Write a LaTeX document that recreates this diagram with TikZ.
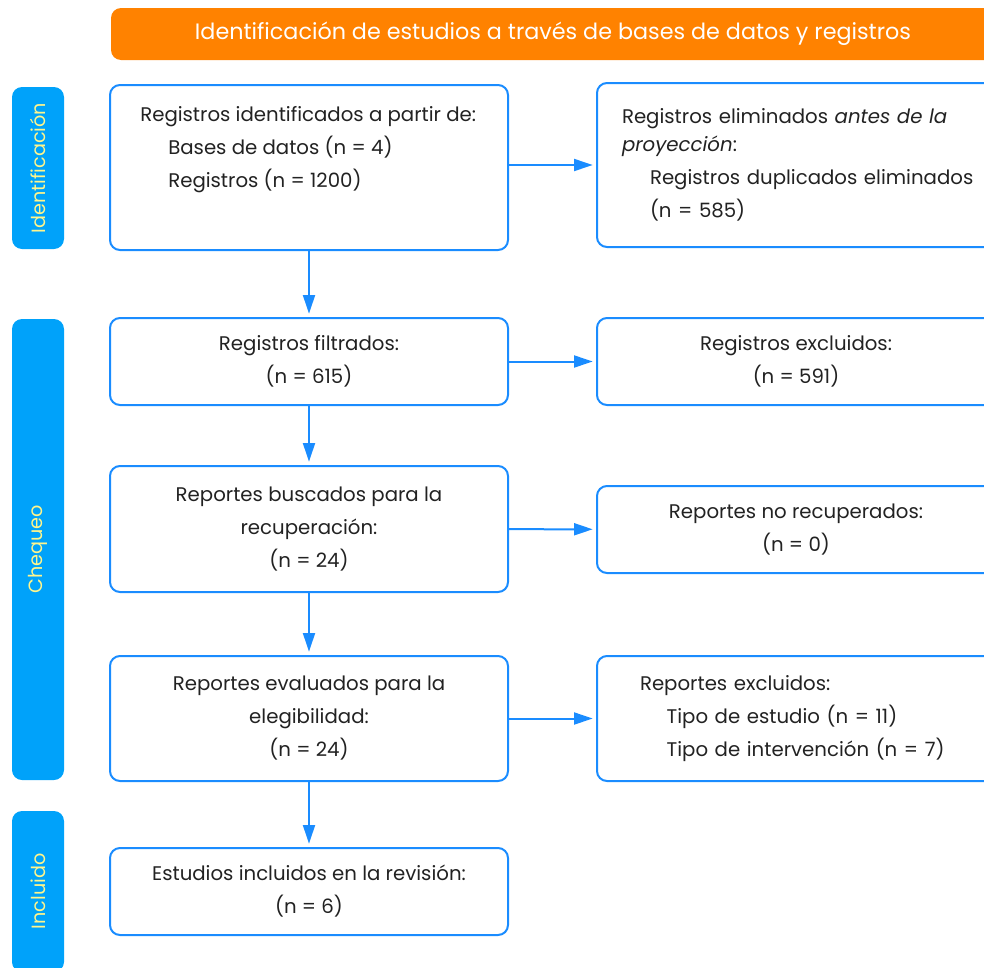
\documentclass[tikz,border=0pt]{standalone}
\usepackage{fontspec}
\setmainfont{Poppins}
\usetikzlibrary{arrows.meta}

\definecolor{prismaorange}{RGB}{255,130,0}
\definecolor{prismablue}{RGB}{26,140,255}
\definecolor{barblue}{RGB}{0,162,250}
\definecolor{baryellow}{RGB}{255,245,140}
\definecolor{txtgray}{RGB}{34,34,34}

\begin{document}
\begin{tikzpicture}[x=0.75pt,y=0.75pt,yscale=-1,xscale=1,
  body/.style={font=\fontsize{14.8pt}{24.75pt}\selectfont, text=txtgray},
  box/.style={body, draw=prismablue, line width=1.5pt, rounded corners=7.5pt, minimum width=298.5pt, inner sep=0pt, align=center},
  rbox/.style={box, align=left, text width=261pt, inner xsep=18.75pt},
  bar/.style={fill=barblue, rounded corners=7.5pt, minimum width=39pt, text=baryellow, font=\fontsize{14.4pt}{16pt}\selectfont},
  head/.style={fill=prismaorange, rounded corners=7.5pt, minimum width=663pt, minimum height=39pt, text=white, font=\fontsize{16.7pt}{18pt}\selectfont},
  arr/.style={draw=prismablue, line width=1.5pt, -{Triangle[length=14pt,width=9pt]}, shorten >=2.5pt}
]
\useasboundingbox (0,0) rectangle (984,967);

% Header
\node[head] (head) at (553,34) {Identificación de estudios a través de bases de datos y registros};

%Shape: side bars
\node[bar, minimum height=121.5pt] (idbar) at (38,168) {\rotatebox{90}{Identificación}};
\node[bar, minimum height=345.75pt] (chbar) at (38,549.5) {\rotatebox{90}{Chequeo}};
\node[bar, minimum height=120.75pt] (inbar) at (38,891.5) {\rotatebox{90}{Incluido}};

%Shape: left column
\node[box, minimum height=123.75pt] (b1) at (309,167.5) {};
\node[body, anchor=west, align=left, inner sep=0pt] (b1text) at (140,150) {Registros identificados a partir de:\\
  \hspace*{21pt}Bases de datos (n = 4)\\
  \hspace*{21pt}Registros (n = 1200)};
\node[box, minimum height=65.25pt] (b2) at (309,361.5) {Registros filtrados:\\(n = 615)};
\node[box, minimum height=94.5pt] (b3) at (309,529) {Reportes buscados para la\\recuperación:\\(n = 24)};
\node[box, minimum height=93.75pt] (b4) at (309,718.5) {Reportes evaluados para la\\elegibilidad:\\(n = 24)};
\node[box, minimum height=65.25pt] (b5) at (309,891.5) {Estudios incluidos en la revisión:\\(n = 6)};

%Shape: right column
\node[rbox, minimum height=123pt] (r1) at (796,165) {Registros eliminados \textit{antes de la}\\[-3.75pt]
  \textit{proyección}:\\
  \hspace*{21pt}\mbox{Registros duplicados eliminados}\\
  \hspace*{21pt}(n = 585)};
\node[box, minimum height=65.25pt] (r2) at (796,361.5) {Registros excluidos:\\(n = 591)};
\node[box, minimum height=65.25pt] (r3) at (796,529.5) {Reportes no recuperados:\\(n = 0)};
\node[rbox, minimum height=93.75pt, inner xsep=32.25pt, text width=234pt] (r4) at (796,718.5) {Reportes excluidos:\\
  \hspace*{20pt}Tipo de estudio (n = 11)\\
  \hspace*{20pt}Tipo de intervención (n = 7)};

%Straight Lines
\draw[arr] (b1) -- (b2);
\draw[arr] (b2) -- (b3);
\draw[arr] (b3) -- (b4);
\draw[arr] (b4) -- (b5);
\draw[arr] (b1.east |- r1) -- (r1.west);
\draw[arr] (b2) -- (r2);
\draw[arr] (b3) -- (r3);
\draw[arr] (b4) -- (r4);

\end{tikzpicture}
\end{document}
